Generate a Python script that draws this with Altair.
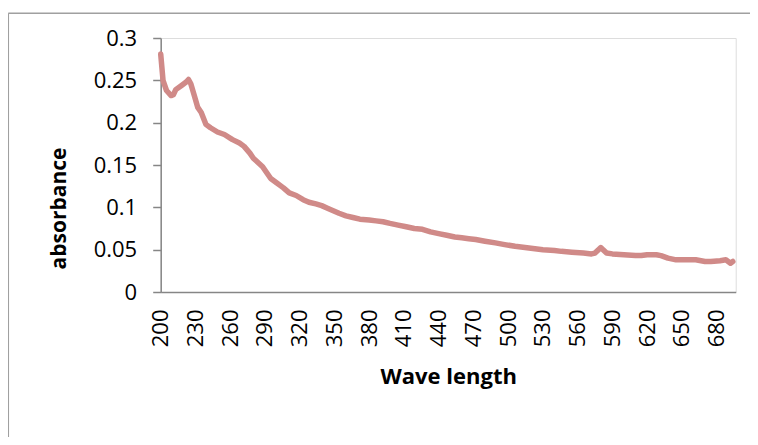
import altair as alt
import pandas as pd

wavelength = [200, 202, 205, 209, 211, 213, 218, 222, 224, 226, 229, 232, 235, 239, 243,
              249, 255, 262, 268, 272, 277, 280, 288, 295, 300, 306, 311, 317, 323, 328,
              334, 339, 344, 349, 354, 360, 366, 372, 380, 386, 392, 398, 405, 412, 419,
              426, 433, 440, 447, 454, 460, 466, 472, 480, 489, 497, 506, 518, 530, 540,
              546, 555, 565, 572, 575, 578, 580, 582, 585, 590, 600, 610, 615, 620, 628,
              632, 638, 645, 655, 662, 670, 675, 683, 688, 690, 692, 694]
absorbance = [0.281, 0.250, 0.238, 0.232, 0.233, 0.239, 0.244, 0.248, 0.251, 0.246, 0.232, 0.218, 0.212, 0.198, 0.194,
              0.189, 0.186, 0.180, 0.176, 0.172, 0.164, 0.158, 0.148, 0.134, 0.129, 0.123, 0.117, 0.114, 0.109, 0.106,
              0.104, 0.102, 0.099, 0.096, 0.093, 0.090, 0.088, 0.086, 0.085, 0.084, 0.083, 0.081, 0.079, 0.077, 0.075,
              0.074, 0.071, 0.069, 0.067, 0.065, 0.064, 0.063, 0.062, 0.060, 0.058, 0.056, 0.054, 0.052, 0.050, 0.049,
              0.048, 0.047, 0.046, 0.045, 0.046, 0.050, 0.0525, 0.050, 0.046, 0.045, 0.044, 0.043, 0.043, 0.044, 0.044,
              0.043, 0.040, 0.038, 0.038, 0.038, 0.036, 0.036, 0.037, 0.038, 0.036, 0.034, 0.036]
x_ticks = list(range(200, 681, 30))
y_ticks = [0, 0.05, 0.1, 0.15, 0.2, 0.25, 0.3]

df = pd.DataFrame({"wl": wavelength, "abs": absorbance})

FONT = "Open Sans"
AXIS_GRAY = "#868686"

line = alt.Chart(df).mark_line(
    color="#d08a88", strokeWidth=5.5, strokeCap="round", strokeJoin="round"
).encode(
    x=alt.X("wl:Q",
            scale=alt.Scale(domain=[200, 696.5], nice=False, zero=False),
            axis=alt.Axis(values=x_ticks, labelAngle=-90, labelAlign="right",
                          labelBaseline="middle", labelPadding=17, ticks=False,
                          tickSize=0, grid=False, labelFontSize=22, labelFont=FONT,
                          labelColor="#000000", domainColor=AXIS_GRAY, domainWidth=1.5,
                          title="Wave length", titleFont=FONT, titleFontSize=22,
                          titleFontWeight="bold", titleColor="#000000",
                          titleBaseline="alphabetic", titleY=91, labelOverlap=False)),
    y=alt.Y("abs:Q",
            scale=alt.Scale(domain=[0, 0.3], nice=False),
            axis=alt.Axis(values=y_ticks, format="~g", tickSize=8, tickColor=AXIS_GRAY,
                          tickWidth=1.5, labelPadding=16, grid=False, labelFontSize=22,
                          labelFont=FONT, labelColor="#000000", domainColor=AXIS_GRAY,
                          domainWidth=1.5, title="absorbance", titleFont=FONT,
                          titleFontSize=21, titleFontWeight="bold", titleColor="#000000",
                          titleAngle=-90, titleAlign="center", titleBaseline="alphabetic",
                          titleX=-95.7, titleY=170, labelOverlap=False)),
)

frame_df = pd.DataFrame({"k": [0]})
top_border = alt.Chart(frame_df).mark_rule(color="#a0a0a0", strokeWidth=1.5).encode(
    x=alt.value(-152.4), x2=alt.value(600), y=alt.value(-24.7)
)
left_border = alt.Chart(frame_df).mark_rule(color="#a0a0a0", strokeWidth=1.5).encode(
    x=alt.value(-152.4), y=alt.value(-24.7), y2=alt.value(430)
)

chart = alt.layer(top_border, left_border, line).properties(
    width=575, height=254,
    autosize=alt.AutoSizeParams(type="none"),
    padding={"left": 152.7, "top": 30, "right": 14.3, "bottom": 145},
).configure_view(stroke=None).configure(background="white")

chart.save("out.html", embed_options={"renderer": "svg", "actions": False})
